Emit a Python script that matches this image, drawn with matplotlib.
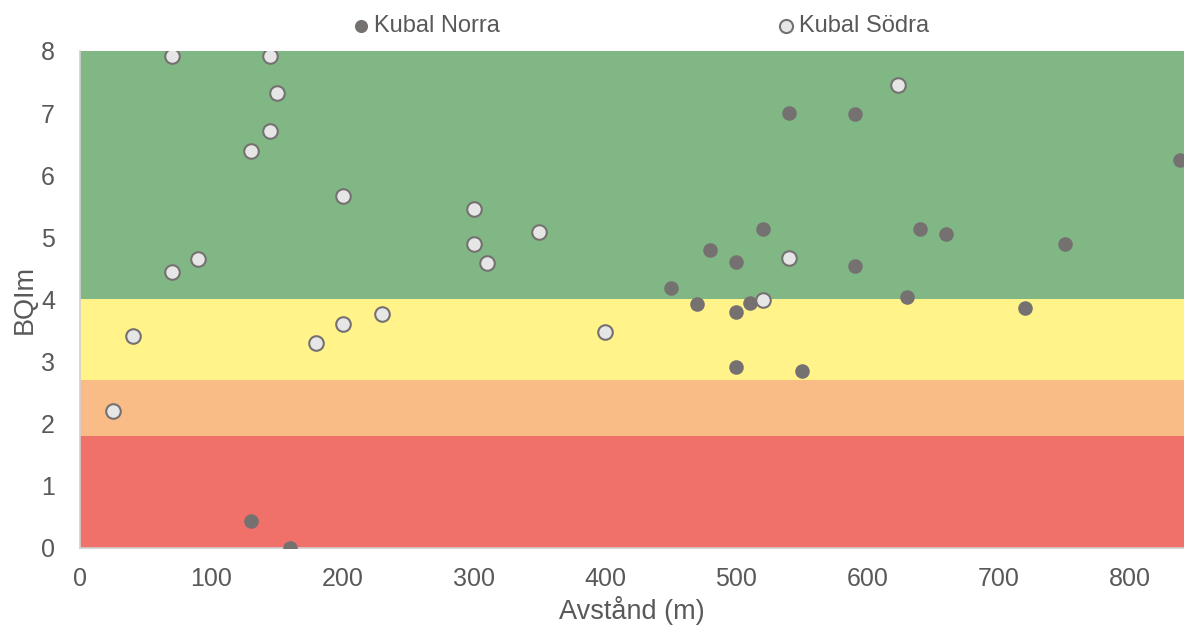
import matplotlib.pyplot as plt

plt.rcParams['font.family'] = ['Liberation Sans', 'DejaVu Sans']

# Kubal Norra
norra_x = [130, 160, 450, 470, 480, 500, 500, 500, 510, 520, 540, 550, 590, 590, 630, 640, 660, 720, 750, 838]
norra_y = [0.43, 0.0, 4.19, 3.93, 4.80, 4.61, 3.80, 2.91, 3.94, 5.14, 7.00, 2.85, 6.99, 4.54, 4.04, 5.13, 5.05, 3.86, 4.89, 6.25]

# Kubal Södra
sodra_x = [25, 40, 70, 70, 90, 130, 145, 145, 150, 180, 200, 200, 230, 300, 300, 310, 350, 400, 520, 540, 623]
sodra_y = [2.21, 3.42, 7.92, 4.44, 4.65, 6.39, 7.92, 6.71, 7.33, 3.30, 5.67, 3.60, 3.77, 5.46, 4.90, 4.58, 5.09, 3.47, 3.99, 4.67, 7.46]

# bakgrundszoner
band_edges = [0, 1.8, 2.7, 4, 8]
band_colors = ['#f0706a', '#f9bc86', '#fff389', '#80b784']

fig = plt.figure(figsize=(11.84, 6.28), dpi=100)
ax = fig.add_axes([0.0676, 0.1274, 0.9324, 0.7914])

for lo, hi, c in zip(band_edges[:-1], band_edges[1:], band_colors):
    ax.axhspan(lo, hi, color=c, lw=0, zorder=0)

ax.scatter(norra_x, norra_y, s=110, color='#767171', lw=0, zorder=3, label='Kubal Norra')
ax.scatter(sodra_x, sodra_y, s=110, facecolor='#e7e6e6', edgecolor='#767171', lw=1.5, zorder=3, label='Kubal Södra')

ax.set_xlim(0, 841)
ax.set_ylim(0, 8)
ax.set_xticks(range(0, 801, 100))
ax.set_yticks(range(0, 9))
ax.tick_params(length=0, labelsize=18, colors='#595959')
ax.tick_params(axis='y', pad=18)
ax.tick_params(axis='x', pad=14)
ax.set_xlabel('Avstånd (m)', fontsize=19.5, color='#595959', labelpad=3)
ax.set_ylabel('BQIm', fontsize=19.5, color='#595959')
ax.yaxis.set_label_coords(-0.038, 0.5)

for s in ['top', 'right']:
    ax.spines[s].set_visible(False)
for s in ['left', 'bottom']:
    ax.spines[s].set_color('#d0d0d0')
    ax.spines[s].set_linewidth(1.2)

fig.legend(loc='upper center', bbox_to_anchor=(0.542, 1.01), ncol=2, frameon=False,
           fontsize=17, handlelength=0.6, handletextpad=0.25, columnspacing=11.8,
           markerscale=0.9, labelcolor='#595959')
plt.savefig('out.png', dpi=100)
